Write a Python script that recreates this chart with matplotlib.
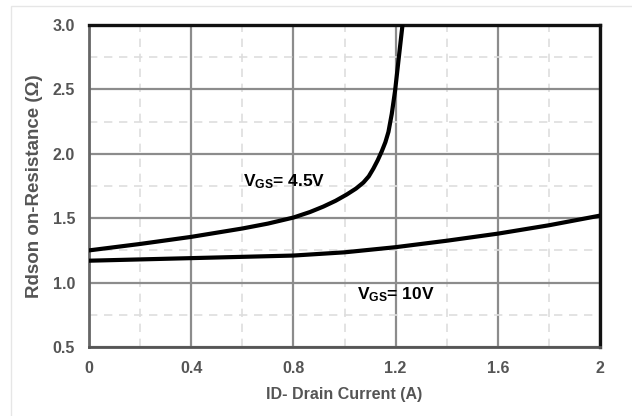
import matplotlib
matplotlib.use("Agg")
import matplotlib.pyplot as plt
from matplotlib.ticker import MultipleLocator
from matplotlib.patches import Rectangle

# ---- data ----
id_45 = [0.0, 0.2, 0.4, 0.6, 0.7, 0.8, 0.865, 0.917, 0.965, 1.008, 1.045, 1.074, 1.095,
         1.113, 1.13, 1.146, 1.16, 1.172, 1.185, 1.198, 1.211, 1.227]
r_45 = [1.25, 1.30, 1.355, 1.42, 1.458, 1.505, 1.548, 1.59, 1.635, 1.683, 1.73, 1.777, 1.825,
        1.885, 1.95, 2.02, 2.09, 2.17, 2.31, 2.49, 2.72, 3.0]

id_10 = [0.0, 0.4, 0.8, 1.0, 1.2, 1.4, 1.6, 1.8, 2.0]
r_10 = [1.17, 1.19, 1.21, 1.235, 1.275, 1.325, 1.38, 1.445, 1.52]

x_ticks = [0, 0.4, 0.8, 1.2, 1.6, 2]
x_ticklabels = ["0", "0.4", "0.8", "1.2", "1.6", "2"]
y_ticks = [0.5, 1.0, 1.5, 2.0, 2.5, 3.0]
y_ticklabels = ["0.5", "1.0", "1.5", "2.0", "2.5", "3.0"]

label_45 = r"V$_{\mathbf{GS}}$= 4.5V"
label_10 = r"V$_{\mathbf{GS}}$= 10V"
xlabel = "ID- Drain Current (A)"
ylabel = "Rdson on-Resistance (Ω)"

plt.rcParams["font.family"] = ["Liberation Sans", "DejaVu Sans"]
plt.rcParams["mathtext.fontset"] = "custom"
plt.rcParams["mathtext.rm"] = "Liberation Sans:bold"
plt.rcParams["mathtext.bf"] = "Liberation Sans:bold"
plt.rcParams["mathtext.it"] = "Liberation Sans:bold"

fig = plt.figure(figsize=(6.32, 4.16), dpi=100)
fig.patches.append(Rectangle((11 / 632, -0.1), 1.2, 1 - 6 / 416 + 0.1,
                             transform=fig.transFigure, fill=False,
                             edgecolor="#e6e6e6", linewidth=1.0))
ax = fig.add_axes([89 / 632, 1 - 347 / 416, 511 / 632, 322 / 416])

ax.set_xlim(0, 2)
ax.set_ylim(0.5, 3.0)
ax.xaxis.set_major_locator(MultipleLocator(0.4))
ax.xaxis.set_minor_locator(MultipleLocator(0.2))
ax.yaxis.set_major_locator(MultipleLocator(0.5))
ax.yaxis.set_minor_locator(MultipleLocator(0.25))
ax.set_xticks(x_ticks)
ax.set_xticklabels(x_ticklabels)
ax.set_yticks(y_ticks)
ax.set_yticklabels(y_ticklabels)

ax.grid(which="major", color="#8c8c8c", linewidth=1.6, linestyle="-")
ax.grid(which="minor", color="#dedede", linewidth=1.2, linestyle=(0, (5, 4)))
ax.set_axisbelow(True)
ax.tick_params(which="both", length=0, pad=10, labelsize=11.5, labelcolor="#555555")
for lab in ax.get_xticklabels() + ax.get_yticklabels():
    lab.set_fontweight("bold")

ax.spines["top"].set_color("#111111")
ax.spines["top"].set_linewidth(2.4)
ax.spines["right"].set_color("#111111")
ax.spines["right"].set_linewidth(2.4)
ax.spines["bottom"].set_color("#555555")
ax.spines["bottom"].set_linewidth(2.0)
ax.spines["left"].set_color("#666666")
ax.spines["left"].set_linewidth(2.0)

ax.plot(id_45, r_45, color="black", linewidth=3.0, solid_capstyle="round",
        solid_joinstyle="round", zorder=3)
ax.plot(id_10, r_10, color="black", linewidth=3.0, solid_capstyle="round",
        solid_joinstyle="round", zorder=3)

ax.text(0.603, 1.787, label_45, fontsize=12.5, fontweight="bold", va="center", ha="left", color="black")
ax.text(1.049, 0.903, label_10, fontsize=12.5, fontweight="bold", va="center", ha="left", color="black")

ax.set_xlabel(xlabel, fontsize=11.5, fontweight="bold", color="#555555", labelpad=8)
ax.set_ylabel(ylabel, fontsize=13.5, fontweight="bold", color="#555555", labelpad=7)

fig.savefig("out.png", dpi=100)
